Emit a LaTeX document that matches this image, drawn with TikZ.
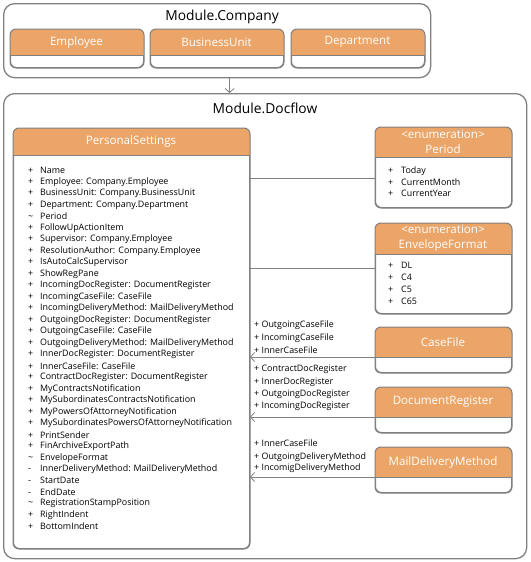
\documentclass[tikz,border=0pt]{standalone}
\usepackage{fontspec}
\setmainfont{Open Sans}
\usetikzlibrary{arrows.meta}
\definecolor{hdr}{RGB}{235,165,104}
\definecolor{edge}{RGB}{128,128,128}
\begin{document}
\begin{tikzpicture}[x=1pt, y=-1pt,
  module/.style={draw=edge, line width=1.3pt, rounded corners=11pt, anchor=north west, inner sep=0pt},
  cls/.style={draw=edge, line width=1pt, fill=white, rounded corners=6pt, anchor=north west, inner sep=0pt},
  title/.style={font=\fontsize{13.8}{16}\selectfont},
  head/.style={text=white, font=\fontsize{11.6}{15}\selectfont, align=center},
  attr/.style={anchor=west, inner sep=0pt, font=\fontsize{8.9}{10}\selectfont},
  link/.style={draw=edge, line width=0.8pt},
  >={Straight Barb[length=4pt,width=9pt]}]
  \useasboundingbox (0,0) rectangle (530,562);
  % modules
  \node[module, minimum width=427pt, minimum height=74pt] (company) at (3,3) {};
  \node[module, minimum width=523pt, minimum height=465pt] (docflow) at (3,93) {};
  \node[title] (company-t) at (222,17) {Module.Company};
  \node[title] (docflow-t) at (265,108) {Module.Docflow};
  \draw[link,->] ([xshift=12.5pt]company.south) -- ([xshift=12.5pt]company.south |- docflow.north);
  % classes
  \node[cls, minimum width=133pt, minimum height=38pt] (emp) at (10,29) {};
  \node[cls, minimum width=133pt, minimum height=38pt] (bu) at (150,29) {};
  \node[cls, minimum width=133pt, minimum height=38pt] (dep) at (291,29) {};
  \node[cls, minimum width=236pt, minimum height=420pt] (ps) at (13,128) {};
  \node[cls, minimum width=136pt, minimum height=80pt] (period) at (375,127) {};
  \node[cls, minimum width=136pt, minimum height=90pt] (envfmt) at (375,223) {};
  \node[cls, minimum width=136pt, minimum height=45pt] (casefile) at (375,327) {};
  \node[cls, minimum width=136pt, minimum height=45pt] (docreg) at (375,387) {};
  \node[cls, minimum width=136pt, minimum height=45pt] (mail) at (375,447) {};
  \foreach \n/\h in {emp/26,bu/26,dep/26,ps/27,period/30,envfmt/31,casefile/30,docreg/30,mail/30}{
    \fill[hdr, rounded corners=6pt] (\n.north west) rectangle ([yshift=-\h pt]\n.north east);
    \fill[hdr] ([yshift=-8pt]\n.north west) rectangle ([yshift=-\h pt]\n.north east);
    \draw[edge, line width=1pt] ([yshift=-\h pt]\n.north west) -- ([yshift=-\h pt]\n.north east);
    \draw[edge, line width=1pt, rounded corners=6pt] (\n.north west) rectangle (\n.south east);
  }
  \node[head] (emp-h) at (76.5,42) {Employee};
  \node[head] (bu-h) at (216.5,42) {BusinessUnit};
  \node[head] (dep-h) at (357.5,42) {Department};
  \node[head] (ps-h) at (131,141.5) {PersonalSettings};
  \node[head] (period-h) at (443,142) {<enumeration>\\Period};
  \node[head] (envfmt-h) at (443,238.5) {<enumeration>\\EnvelopeFormat};
  \node[head] (casefile-h) at (443,342) {CaseFile};
  \node[head] (docreg-h) at (443,402) {DocumentRegister};
  \node[head] (mail-h) at (443,462) {MailDeliveryMethod};
  % attributes
  \foreach \s/\t [count=\i] in {+/Name, +/Employee: Company.Employee, +/BusinessUnit: Company.BusinessUnit,
      +/Department: Company.Department, \textasciitilde/Period, +/FollowUpActionItem,
      +/Supervisor: Company.Employee, +/ResolutionAuthor: Company.Employee, +/IsAutoCalcSupervisor,
      +/ShowRegPane, +/IncomingDocRegister: DocumentRegister, +/IncomingCaseFile: CaseFile,
      +/IncomingDeliveryMethod: MailDeliveryMethod, +/OutgoingDocRegister: DocumentRegister,
      +/OutgoingCaseFile: CaseFile, +/OutgoingDeliveryMethod: MailDeliveryMethod,
      +/InnerDocRegister: DocumentRegister, +/InnerCaseFile: CaseFile,
      +/ContractDocRegister: DocumentRegister, +/MyContractsNotification,
      +/MySubordinatesContractsNotification, +/MyPowersOfAttorneyNotification,
      +/MySubordinatesPowersOfAttorneyNotification, +/PrintSender, +/FinArchiveExportPath,
      \textasciitilde/EnvelopeFormat, -/InnerDeliveryMethod: MailDeliveryMethod, -/StartDate, -/EndDate,
      \textasciitilde/RegistrationStampPosition, +/RightIndent, +/BottomIndent}
    \node[attr] (ps-a\i) at (28,{170.7+(\i-1)*11.48}) {\makebox[12pt][l]{\s}\t};
  \foreach \t [count=\i] in {Today, CurrentMonth, CurrentYear}
    \node[attr] (period-a\i) at (388,{170.7+(\i-1)*11.5}) {\makebox[13pt][l]{+}\t};
  \foreach \t [count=\i] in {DL, C4, C5, C65}
    \node[attr] (envfmt-a\i) at (388,{265.3+(\i-1)*12}) {\makebox[13pt][l]{+}\t};
  % links
  \draw[link] ([yshift=-51pt]period.north west) -- ([yshift=-51pt]period.north west -| ps.east);
  \draw[link] ([yshift=-45pt]envfmt.north west) -- ([yshift=-45pt]envfmt.north west -| ps.east);
  \foreach \n in {casefile, docreg, mail}
    \draw[link,->] ([yshift=-30pt]\n.north west) -- ([yshift=-30pt]\n.north west -| ps.east);
  \foreach \t/\y [count=\i] in {OutgoingCaseFile/325, IncomingCaseFile/337.7, InnerCaseFile/349.7}
    \node[attr] (casefile-l\i) at (254,\y) {+ \t};
  \foreach \t/\y [count=\i] in {ContractDocRegister/369, InnerDocRegister/382.7,
      OutgoingDocRegister/394.7, IncomingDocRegister/406.7}
    \node[attr] (docreg-l\i) at (254,\y) {+ \t};
  \foreach \t/\y [count=\i] in {InnerCaseFile/442.7, OutgoingDeliveryMethod/456.7, IncomigDeliveryMethod/468.3}
    \node[attr] (mail-l\i) at (254,\y) {+ \t};
\end{tikzpicture}
\end{document}
